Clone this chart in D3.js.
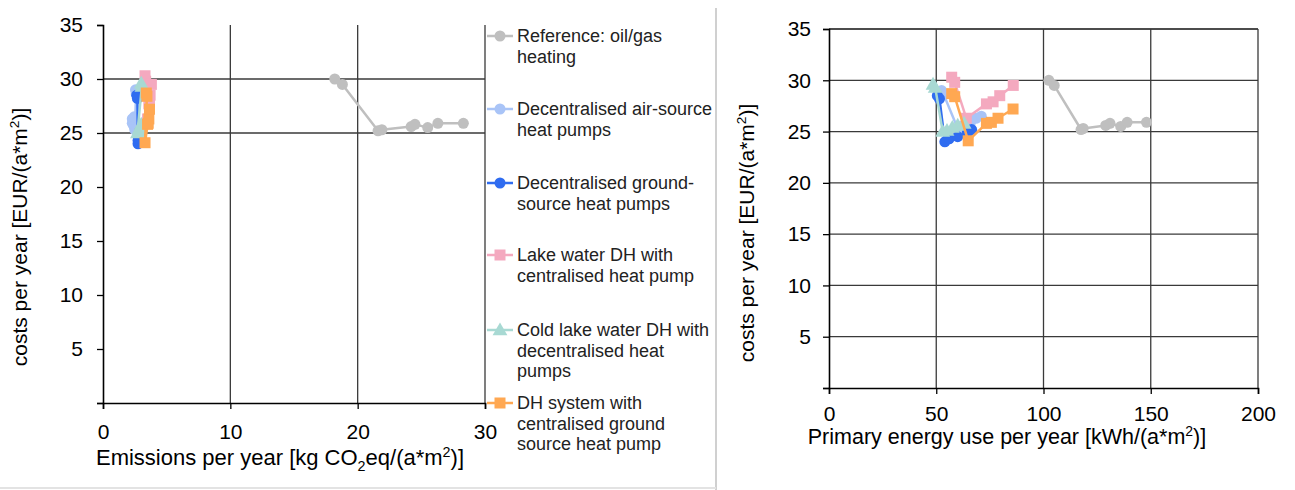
<!DOCTYPE html>
<html><head><meta charset="utf-8">
<script src="https://cdn.jsdelivr.net/npm/d3@7"></script>
<style>body{margin:0;background:#fff}svg{display:block;font-family:"Liberation Sans",Arial,sans-serif}</style>
</head><body>
<svg id="c" width="1295" height="490"></svg>
<script>
// ---- data ----
const seriesNames = ["Reference: oil/gas heating","Decentralised air-source heat pumps","Decentralised ground-source heat pumps","Lake water DH with centralised heat pump","Cold lake water DH with decentralised heat pumps","DH system with centralised ground source heat pump"];
const legendLines = [["Reference: oil/gas","heating"],["Decentralised air-source","heat pumps"],["Decentralised ground-","source heat pumps"],["Lake water DH with","centralised heat pump"],["Cold lake water DH with","decentralised heat","pumps"],["DH system with","centralised ground","source heat pump"]];
const seriesColors = ["#bfbfbf","#a9c4f7","#2f6cf0","#f4a9bf","#a8d9d3","#ffa852"];
const seriesShapes = ["circle","circle","circle","square","triangle","square"];

const refEmis = [18.2,18.8,21.6,21.9,24.2,24.5,25.5,26.3,28.3];
const refPE   = [102.5,105,117.5,118.5,129,131,136,139,148];
const refCost = [30.0,29.5,25.2,25.3,25.6,25.8,25.5,25.9,25.9];

const airEmis = [2.55,2.6,2.5,2.45,2.3,2.3,2.45];
const airPE   = [52.5,53.5,60,62.5,66,68.5,71];
const airCost = [29.0,28.6,25.3,25.6,25.9,26.3,26.5];

const gndEmis = [2.65,2.7,2.75,2.75,2.8,2.85,2.9];
const gndPE   = [50.5,51.5,54,56,60,64.5,66.5];
const gndCost = [28.5,28.2,24.0,24.3,24.5,24.9,25.2];

const lakeEmis = [3.3,3.35,3.5,3.6,3.65,3.7,3.8];
const lakePE   = [57.2,58.6,64,73.4,76.5,79.6,85.9];
const lakeCost = [30.3,29.8,26.3,27.7,27.9,28.5,29.5];

const coldEmis = [3.0,3.05,2.7,2.8,2.85,2.95,3.0];
const coldPE   = [48.5,49.5,53,55,57.5,60,63];
const coldCost = [29.6,29.3,25.0,25.1,25.4,25.6,25.8];

const dhEmis = [3.4,3.45,3.3,3.5,3.55,3.6,3.65];
const dhPE   = [57.2,58.6,64.9,73.4,75.7,78.8,85.8];
const dhCost = [28.7,28.4,24.1,25.8,25.9,26.3,27.2];

const costTicks = [5,10,15,20,25,30,35];
const emisTicks = [0,10,20,30];
const peTicks = [0,50,100,150,200];

// ---- build ----
const emisAll=[refEmis,airEmis,gndEmis,lakeEmis,coldEmis,dhEmis];
const peAll=[refPE,airPE,gndPE,lakePE,coldPE,dhPE];
const costAll=[refCost,airCost,gndCost,lakeCost,coldCost,dhCost];

const svg=d3.select("#c");
const font="Liberation Sans, Arial, sans-serif";

// divider
svg.append("line").attr("x1",716).attr("x2",716).attr("y1",8).attr("y2",490).attr("stroke","#d0d0d0").attr("stroke-width",2);
svg.append("line").attr("x1",0).attr("x2",716).attr("y1",488).attr("y2",488).attr("stroke","#e3e3e3").attr("stroke-width",2);

function marker(g,shape,color,x,y){
  if(shape==="circle") g.append("circle").attr("cx",x).attr("cy",y).attr("r",5.5).attr("fill",color);
  else if(shape==="square") g.append("rect").attr("x",x-5.5).attr("y",y-5.5).attr("width",11).attr("height",11).attr("fill",color);
  else g.append("path").attr("d",d3.symbol(d3.symbolTriangle,95)()).attr("transform",`translate(${x},${y+1})`).attr("fill",color);
}

function chart(xs,ys,xData,yData,xTicks,hGrid,topLine,yLabX,xLabY){
  const g=svg.append("g");
  const [x0,x1]=xs.range(), [y0,y1]=ys.range();
  hGrid.forEach(v=>g.append("line").attr("x1",x0).attr("x2",x1).attr("y1",ys(v)).attr("y2",ys(v)).attr("stroke","#3a3a3a").attr("stroke-width",1.3));
  if(topLine) g.append("line").attr("x1",x0).attr("x2",x1).attr("y1",ys(35)).attr("y2",ys(35)).attr("stroke","#111").attr("stroke-width",1.5);
  xTicks.filter(v=>v>0).forEach(v=>g.append("line").attr("x1",xs(v)).attr("x2",xs(v)).attr("y1",y0).attr("y2",y1).attr("stroke","#3a3a3a").attr("stroke-width",1.3));
  const ya=g.append("g").attr("transform",`translate(${x0},0)`).call(d3.axisLeft(ys).tickValues([0].concat(costTicks)).tickSize(6).tickFormat(d=>d===0?"":d));
  const xa=g.append("g").attr("transform",`translate(0,${y0})`).call(d3.axisBottom(xs).tickValues(xTicks).tickSize(6));
  [ya,xa].forEach(a=>{a.select(".domain").attr("stroke","#000").attr("stroke-width",1.6);
    a.selectAll(".tick line").attr("stroke","#000").attr("stroke-width",1.3);
    a.selectAll("text").attr("font-family",font).attr("font-size",21).attr("fill","#000");});
  ya.selectAll("text").attr("x",yLabX);
  xa.selectAll("text").attr("y",xLabY);
  for(let s=0;s<6;s++){
    const pts=xData[s].map((v,i)=>[xs(v),ys(yData[s][i])]);
    g.append("path").attr("d",d3.line()(pts)).attr("fill","none").attr("stroke",seriesColors[s]).attr("stroke-width",2.5).attr("stroke-linejoin","round");
    pts.forEach(p=>marker(g,seriesShapes[s],seriesColors[s],p[0],p[1]));
  }
  return g;
}

const xL=d3.scaleLinear().domain([0,30]).range([103,485]);
const yL=d3.scaleLinear().domain([0,35]).range([403,25]);
chart(xL,yL,emisAll,costAll,emisTicks,[25,30],false,-20,21);

const xR=d3.scaleLinear().domain([0,200]).range([829,1258]);
const yR=d3.scaleLinear().domain([0,35]).range([388,29]);
chart(xR,yR,peAll,costAll,peTicks,[5,10,15,20,25,30],true,-18,18);

// axis titles
function title(x,y,rot,parts,fs){
  const t=svg.append("text").attr("font-family",font).attr("font-size",fs).attr("fill","#000").attr("text-anchor","middle")
    .attr("transform",`translate(${x},${y}) rotate(${rot})`);
  parts.forEach(p=>{
    const ts=t.append("tspan").text(p[0]);
    if(p[1]==="sub") ts.attr("font-size",fs*0.65).attr("dy",6);
    else if(p[1]==="sup") ts.attr("font-size",fs*0.65).attr("dy",-8);
    else if(p[1]==="back") ts.attr("dy",p[2]);
  });
  return t;
}
title(280,465,0,[["Emissions per year [kg CO"],["2","sub"],["eq/(a*m","back",-6],["2","sup"],[")]","back",8]],22);
title(27,237,-90,[["costs per year [EUR/(a*m"],["2","sup"],[")]","back",8]],21);
title(1007,444,0,[["Primary energy use per year [kWh/(a*m"],["2","sup"],[")]","back",8]],21.5);
title(754,233,-90,[["costs per year [EUR/(a*m"],["2","sup"],[")]","back",8]],21);

// legend
const legY=[36,109,183,255,330,403];
seriesNames.forEach((n,s)=>{
  const g=svg.append("g");
  g.append("line").attr("x1",487).attr("x2",513).attr("y1",legY[s]).attr("y2",legY[s]).attr("stroke",seriesColors[s]).attr("stroke-width",2.5);
  marker(g,seriesShapes[s],seriesColors[s],500,legY[s]);
  legendLines[s].forEach((l,i)=>g.append("text").attr("x",517).attr("y",legY[s]+6+i*20.5).attr("font-family",font).attr("font-size",18).attr("fill","#222").text(l));
});
</script>
</body></html>
